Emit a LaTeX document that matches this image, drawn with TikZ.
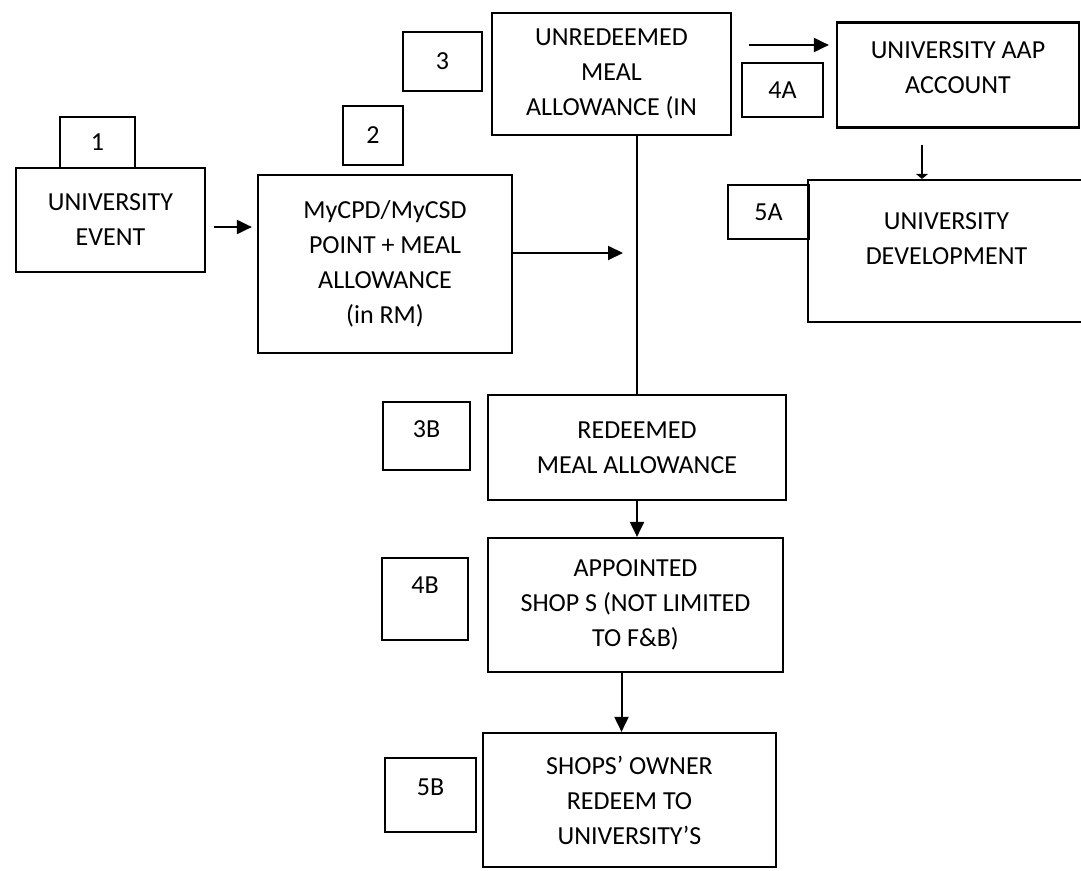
\documentclass[tikz,border=0pt]{standalone}
\usepackage{fontspec}
\setmainfont{Carlito}
\usetikzlibrary{arrows.meta,positioning,calc}

\tikzset{
  flowbox/.style={draw, line width=2.2pt, align=center, inner sep=0pt,
    font=\fontsize{26}{35}\selectfont},
  numbox/.style={draw, line width=1.6pt, inner sep=0pt,
    font=\fontsize{26}{35}\selectfont},
  flowarrow/.style={line width=2pt, -{Triangle[length=15pt,width=14pt]}},
  lift/.style={text depth=#1},
}

\begin{document}
\begin{tikzpicture}[x=1pt, y=-1pt]
    \clip (0,0) rectangle (1081,870);

    % Step tags
    \node[numbox, minimum width=75pt, minimum height=51pt] (tagone) at (97.5,142.5) {1};
    \node[numbox, minimum width=60pt, minimum height=59pt] (tagtwo) at (373,135.5) {2};
    \node[numbox, minimum width=79pt, minimum height=59pt] (tagthree) at (442.5,61.5) {3};
    \node[numbox, minimum width=81pt, minimum height=54pt] (tagfoura) at (782.5,90) {4A};
    \node[numbox, minimum width=81pt, minimum height=54pt] (tagfivea) at (768.5,212) {5A};
    \node[numbox, minimum width=87pt, minimum height=68pt, lift=14pt] (tagthreeb) at (426.5,436) {3B};
    \node[numbox, minimum width=86pt, minimum height=82pt, lift=28pt] (tagfourb) at (425,599) {4B};
    \node[numbox, minimum width=91pt, minimum height=74pt, lift=16pt] (tagfiveb) at (430.5,795) {5B};

    % Flow boxes
    \node[flowbox, minimum width=189pt, minimum height=104pt] (event) at (110.5,220)
        {UNIVERSITY\\EVENT};
    \node[flowbox, minimum width=254pt, minimum height=178pt] (mycpd) at (385,264)
        {MyCPD/MyCSD\\POINT + MEAL\\ALLOWANCE\\(in RM)};
    \node[flowbox, minimum width=239pt, minimum height=122pt] (unredeemed) at (611.5,74)
        {UNREDEEMED\\MEAL\\ALLOWANCE (IN};
    \node[flowbox, minimum width=242pt, minimum height=105pt, lift=14pt] (aap) at (958,75)
        {UNIVERSITY AAP\\ACCOUNT};
    \node[flowbox, minimum width=277pt, minimum height=142pt, lift=24pt] (develop) at (946.5,251)
        {UNIVERSITY\\DEVELOPMENT};
    \node[flowbox, minimum width=298pt, minimum height=105pt] (redeemed) at (637,447.5)
        {REDEEMED\\MEAL ALLOWANCE};
    \node[flowbox, minimum width=295pt, minimum height=134pt] (shops) at (635.5,605)
        {APPOINTED\\SHOP S (NOT LIMITED\\TO F\&B)};
    \node[flowbox, minimum width=293pt, minimum height=134pt] (owner) at (629.5,800)
        {SHOPS’ OWNER\\REDEEM TO\\UNIVERSITY’S};

    % Connectors
    \draw[flowarrow, shorten <=8pt, shorten >=5pt] ([yshift=-7pt]event.east) -- ([yshift=-7pt]event.east -| mycpd.west);
    \draw[line width=1.5pt] (unredeemed.south -| redeemed.north) -- (redeemed.north);
    \draw[flowarrow, shorten >=14pt] ([yshift=11pt]mycpd.east) -- ([yshift=11pt]mycpd.east -| redeemed.north);
    \draw[flowarrow, shorten <=17pt, shorten >=7pt] ([yshift=29pt]unredeemed.east) -- ([yshift=29pt]unredeemed.east -| aap.west);
    \draw[line width=2pt, -{Triangle[length=5pt,width=12pt]}, shorten <=16pt] ([xshift=-36pt]aap.south) -- ([xshift=-36pt]aap.south |- develop.north);
    \draw[flowarrow] (redeemed.south) -- (redeemed.south |- shops.north);
    \draw[flowarrow] ([xshift=-14pt]shops.south) -- ([xshift=-14pt]shops.south |- owner.north);
\end{tikzpicture}
\end{document}
